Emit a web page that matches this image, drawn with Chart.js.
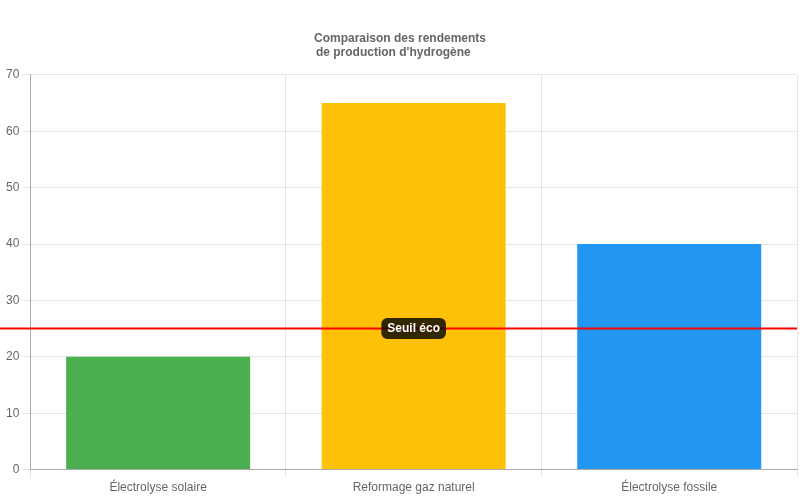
<!DOCTYPE html>
<html>
<head>
<meta charset="utf-8">
<script src="https://cdn.jsdelivr.net/npm/chart.js@4"></script>
<style>
html,body{margin:0;padding:0;background:#fff;}
#wrap{width:800px;height:500px;}
</style>
</head>
<body>
<div id="wrap"><canvas id="c"></canvas></div>
<script>
const categories = ['Électrolyse solaire', 'Reformage gaz naturel', 'Électrolyse fossile'];
const rendements = [20, 65, 40];
const barColors = ['#4CAF50', '#FFC107', '#2196F3'];
const titleLines = ['Comparaison des rendements', 'de production d\'hydrogène    '];
const seuilValue = 25;
const seuilLabel = 'Seuil éco';

const seuilPlugin = {
  id: 'seuil',
  afterDatasetsDraw(chart) {
    const ctx = chart.ctx;
    const y = chart.scales.y.getPixelForValue(seuilValue);
    const area = chart.chartArea;
    ctx.save();
    ctx.strokeStyle = 'red';
    ctx.lineWidth = 2;
    ctx.beginPath();
    ctx.moveTo(0, y);
    ctx.lineTo(area.right, y);
    ctx.stroke();
    ctx.font = 'bold 12px "Helvetica Neue", Helvetica, Arial, sans-serif';
    const tw = ctx.measureText(seuilLabel).width;
    const padX = 6, h = 21;
    const cx = (area.left + area.right) / 2;
    const w = tw + padX * 2;
    const x0 = cx - w / 2, y0 = y - h / 2;
    ctx.fillStyle = 'rgba(0,0,0,0.8)';
    ctx.beginPath();
    if (ctx.roundRect) ctx.roundRect(x0, y0, w, h, 6); else ctx.rect(x0, y0, w, h);
    ctx.fill();
    ctx.fillStyle = '#fff';
    ctx.textAlign = 'center';
    ctx.textBaseline = 'middle';
    ctx.fillText(seuilLabel, cx, y);
    ctx.restore();
  }
};

new Chart(document.getElementById('c'), {
  type: 'bar',
  data: {
    labels: categories,
    datasets: [{
      label: 'Rendement',
      data: rendements,
      backgroundColor: barColors
    }]
  },
  options: {
    responsive: true,
    maintainAspectRatio: false,
    animation: false,
    layout: { padding: { top: 21, right: 3, bottom: 2, left: 3 } },
    plugins: {
      legend: { display: false },
      title: { display: true, text: titleLines, padding: { top: 10, bottom: 15 } }
    },
    scales: {
      x: { border: { color: '#aaa' } },
      y: { min: 0, max: 70, ticks: { stepSize: 10 }, border: { color: '#aaa' } }
    }
  },
  plugins: [seuilPlugin]
});
</script>
</body>
</html>
